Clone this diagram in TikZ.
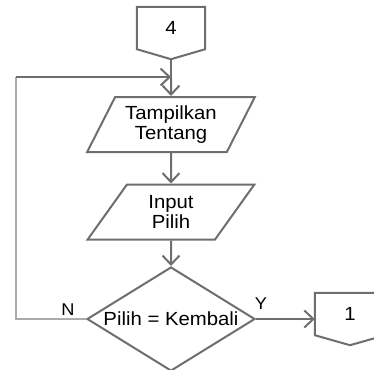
\documentclass[tikz,border=0pt]{standalone}
\usepackage{fontspec}
\setmainfont[FakeStretch=1.07]{Liberation Sans}
\usetikzlibrary{shapes.geometric,arrows.meta,calc}
\definecolor{edge}{HTML}{6E6E6E}
\definecolor{faint}{HTML}{ABABAB}
\begin{document}
\begin{tikzpicture}[x=1pt,y=-1pt,
  every node/.style={font=\fontsize{19}{20.5}\selectfont, text=black},
  flow/.style={draw=edge, line width=2pt},
  arr/.style={flow, -{Straight Barb[length=9pt,width=17pt,line width=2pt]}},
  iobox/.style={trapezium, trapezium left angle=59, trapezium right angle=121,
    trapezium stretches=true, draw=edge, line width=2pt, fill=white,
    minimum width=168pt, minimum height=55pt, inner sep=0pt, align=center},
  decision/.style={diamond, aspect=1.615, draw=edge, line width=2pt, fill=white,
    minimum width=168pt, minimum height=104pt, inner sep=0pt},
  pagebox/.style={minimum width=68pt, minimum height=42pt, inner sep=0pt},
  lbl/.style={font=\fontsize{17}{17}\selectfont, inner sep=0pt}]
\useasboundingbox (0,0) rectangle (374,369);

% off-page connector 4
\node[pagebox] (c4) at (171,28) {4};
\draw[flow, line join=miter] (c4.south west) -- (c4.north west) -- (c4.north east)
  -- (c4.south east) -- ($(c4.south)+(0,10)$) coordinate (c4tip) -- cycle;

% process steps
\node[iobox] (show) at (171,124.5) {Tampilkan\\Tentang};
\node[iobox] (inp) at (171,212) {Input\\Pilih};
\node[decision] (dec) at (171,319) {Pilih = Kembali};

% off-page connector 1
\node[pagebox, minimum width=70pt] (c1) at (350,314) {1};
\draw[flow, line join=miter] (c1.south west) -- (c1.north west) -- (c1.north east)
  -- (c1.south east) -- ($(c1.south)+(0,10)$) -- cycle;

% main flow
\coordinate (join) at (171,77);
\draw[flow] (c4tip) -- (join);
\draw[arr] (join) -- (show.north);
\draw[arr] (show.south) -- (inp.north);
\draw[arr] (inp.south) -- (dec.north);
\draw[arr] (dec.east) -- (dec.east -| c1.west);

% loop back on N
\coordinate (lowleft) at (16,319);
\coordinate (upleft) at (16,77);
\draw[draw=faint, line width=1.6pt] (dec.west) -- (lowleft) -- (upleft);
\draw[arr] (upleft) -- (join);

% branch labels
\node[lbl] (nlab) at (68,310) {N};
\node[lbl] (ylab) at (261,304) {Y};
\end{tikzpicture}
\end{document}
